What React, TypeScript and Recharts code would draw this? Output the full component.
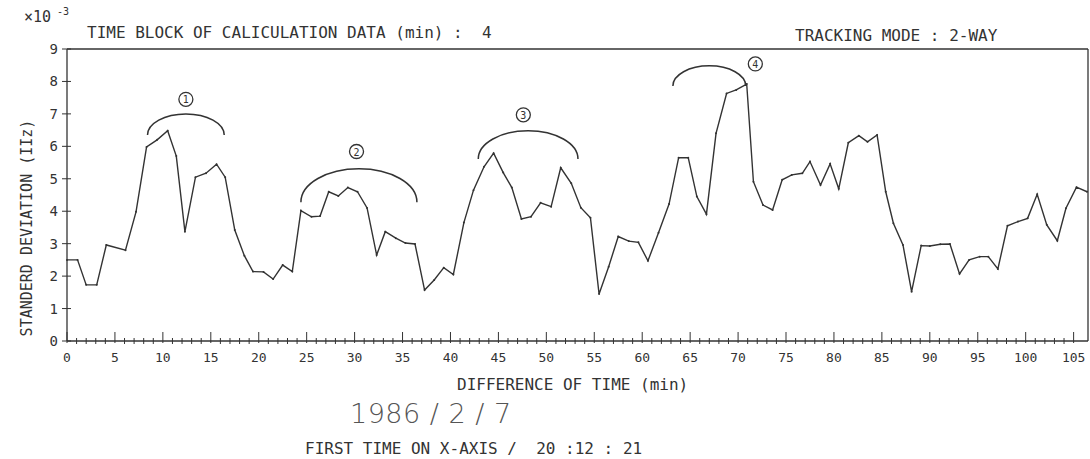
import React from 'react';
import {
  LineChart,
  Line,
  XAxis,
  YAxis,
  ReferenceLine,
  ReferenceArea,
  ReferenceDot,
} from 'recharts';

// minutes from first time on x-axis
const minutes = [
  0, 1.1, 2.0, 3.1, 4.1, 6.1, 7.2, 8.3, 9.4, 10.5, 11.4, 12.3, 13.4, 14.5, 15.6,
  16.5, 17.5, 18.5, 19.4, 20.5, 21.5, 22.5, 23.5, 24.4, 25.5, 26.4, 27.3, 28.3,
  29.3, 30.3, 31.3, 32.3, 33.2, 34.3, 35.3, 36.3, 37.3, 38.3, 39.3, 40.3, 41.4,
  42.4, 43.5, 44.5, 45.5, 46.4, 47.4, 48.4, 49.4, 50.5, 51.5, 52.6, 53.6, 54.6,
  55.5, 56.5, 57.5, 58.6, 59.6, 60.6, 61.7, 62.8, 63.8, 64.8, 65.7, 66.7, 67.7,
  68.8, 69.8, 70.9, 71.6, 72.6, 73.6, 74.6, 75.6, 76.7, 77.5, 78.6, 79.6, 80.5,
  81.5, 82.6, 83.5, 84.5, 85.4, 86.2, 87.2, 88.1, 89.1, 90.0, 91.1, 92.1, 93.1,
  94.1, 95.2, 96.1, 97.1, 98.1, 99.2, 100.2, 101.2, 102.2, 103.3, 104.2, 105.3,
  106.4,
];

// standard deviation, x 10^-3 Hz
const stdDev = [
  2.5, 2.5, 1.73, 1.73, 2.96, 2.8, 3.98, 5.98, 6.2, 6.48, 5.7, 3.37, 5.05, 5.17,
  5.45, 5.05, 3.42, 2.63, 2.14, 2.13, 1.91, 2.34, 2.14, 4.02, 3.83, 3.85, 4.6,
  4.47, 4.73, 4.6, 4.1, 2.65, 3.37, 3.17, 3.02, 2.99, 1.57, 1.88, 2.26, 2.05,
  3.65, 4.65, 5.37, 5.79, 5.19, 4.73, 3.76, 3.83, 4.26, 4.14, 5.34, 4.86, 4.11,
  3.8, 1.45, 2.29, 3.22, 3.08, 3.04, 2.47, 3.34, 4.22, 5.65, 5.65, 4.45, 3.91,
  6.4, 7.63, 7.74, 7.92, 4.91, 4.19, 4.04, 4.97, 5.12, 5.17, 5.53, 4.81, 5.46,
  4.69, 6.11, 6.33, 6.14, 6.35, 4.6, 3.63, 2.96, 1.52, 2.94, 2.93, 2.98, 2.99,
  2.07, 2.5, 2.6, 2.6, 2.22, 3.55, 3.68, 3.78, 4.52, 3.58, 3.09, 4.09, 4.74,
  4.6,
];

const xLabels = [0, 5, 10, 15, 20, 25, 30, 35, 40, 45, 50, 55, 60, 65, 70, 75, 80, 85, 90, 95, 100, 105];
const xMinorTicks = Array.from({ length: 106 }, (_, i) => i);
const yTicks = [0, 1, 2, 3, 4, 5, 6, 7, 8, 9];

// hand drawn brackets over the events: span in minutes, end / top level
const markLabels = ['1', '2', '3', '4'];
const markStart = [8.4, 24.4, 42.9, 63.2];
const markEnd = [16.4, 36.5, 53.3, 70.8];
const markBase = [6.35, 4.28, 5.61, 7.86];
const markTop = [7.0, 5.31, 6.48, 8.48];
const markNumX = [12.4, 30.2, 47.6, 71.8];
const markNumY = [7.45, 5.84, 6.97, 8.54];

const data = minutes.map((t, i) => ({ t, v: stdDev[i] }));

const FONT = '"DejaVu Sans Mono", monospace';
const INK = '#333';

const XTick = (props: any) => {
  const { x, y, payload } = props;
  const major = xLabels.includes(payload.value);
  return (
    <g>
      <line
        x1={x}
        x2={x}
        y1={major ? y - 9 : y - 3}
        y2={major ? y + 2 : y + 3}
        stroke={INK}
        strokeWidth={1}
      />
      {major && (
        <text x={x} y={y + 21} textAnchor="middle" fontFamily={FONT} fontSize={13} fill={INK}>
          {payload.value}
        </text>
      )}
    </g>
  );
};

const YTick = (props: any) => {
  const { x, y, payload } = props;
  return (
    <g>
      <line x1={x - 5} x2={x + 4} y1={y} y2={y} stroke={INK} strokeWidth={1} />
      <text x={x - 9} y={y + 5} textAnchor="end" fontFamily={FONT} fontSize={14} fill={INK}>
        {payload.value}
      </text>
    </g>
  );
};

const Bracket = (props: any) => {
  const { x, y, width, height } = props;
  return (
    <path
      d={`M${x},${y + height} A${width / 2},${height} 0 0 1 ${x + width},${y + height}`}
      fill="none"
      stroke={INK}
      strokeWidth={1.5}
    />
  );
};

const circled = (label: string) => (props: any) => {
  const { cx, cy } = props;
  return (
    <g>
      <circle cx={cx} cy={cy} r={7} fill="none" stroke={INK} strokeWidth={1.3} />
      <text x={cx} y={cy + 4} textAnchor="middle" fontFamily={FONT} fontSize={10} fill={INK}>
        {label}
      </text>
    </g>
  );
};

const txt = (left: number, top: number, size: number, extra: React.CSSProperties = {}): React.CSSProperties => ({
  position: 'absolute',
  left,
  top,
  fontFamily: FONT,
  fontSize: size,
  lineHeight: 1,
  color: INK,
  whiteSpace: 'pre',
  ...extra,
});

export default function App() {
  return (
    <div style={{ position: 'absolute', left: 0, top: 0, width: 1090, height: 459, background: '#fff' }}>
      <LineChart width={1090} height={459} data={data} margin={{ top: 49, right: 2, bottom: 88, left: 0 }}>
        <XAxis
          type="number"
          dataKey="t"
          domain={[0, 106.5]}
          ticks={xMinorTicks}
          interval={0}
          tickSize={0}
          tickMargin={0}
          tick={<XTick />}
          height={30}
          axisLine={{ stroke: INK, strokeWidth: 1.3 }}
        />
        <YAxis
          type="number"
          domain={[0, 9]}
          ticks={yTicks}
          interval={0}
          tickSize={0}
          tickMargin={0}
          tick={<YTick />}
          width={67}
          axisLine={{ stroke: INK, strokeWidth: 1.3 }}
        />
        <ReferenceLine y={9} stroke={INK} strokeWidth={1.3} />
        <ReferenceLine x={106.5} stroke={INK} strokeWidth={1.3} />
        {markLabels.map((m, i) => (
          <ReferenceArea
            key={'a' + m}
            x1={markStart[i]}
            x2={markEnd[i]}
            y1={markBase[i]}
            y2={markTop[i]}
            shape={<Bracket />}
          />
        ))}
        {markLabels.map((m, i) => (
          <ReferenceDot key={'d' + m} x={markNumX[i]} y={markNumY[i]} r={7} shape={circled(m)} />
        ))}
        <Line
          type="linear"
          dataKey="v"
          stroke={INK}
          strokeWidth={1.4}
          dot={{ r: 1, fill: INK, stroke: 'none' }}
          isAnimationActive={false}
        />
      </LineChart>

      <div style={txt(24, 10, 15)}>×10</div>
      <div style={txt(57, 7, 10)}>-3</div>
      <div style={txt(87, 25, 16)}>TIME BLOCK OF CALICULATION DATA (min) :  4</div>
      <div style={txt(795, 28, 16)}>TRACKING MODE : 2-WAY</div>
      <div
        style={txt(27, 228, 15, {
          transform: 'translate(-50%, -50%) rotate(-90deg)',
        })}
      >
        STANDERD DEVIATION (IIz)
      </div>
      <div style={txt(457, 377, 16)}>DIFFERENCE OF TIME (min)</div>
      <div
        style={txt(350, 400, 27, {
          color: '#555',
          fontFamily: '"DejaVu Sans", sans-serif',
          fontWeight: 300,
          letterSpacing: 0.5,
        })}
      >
        1986 / 2 / 7
      </div>
      <div style={txt(305, 441, 16)}>FIRST TIME ON X-AXIS /  20 :12 : 21</div>
    </div>
  );
}
